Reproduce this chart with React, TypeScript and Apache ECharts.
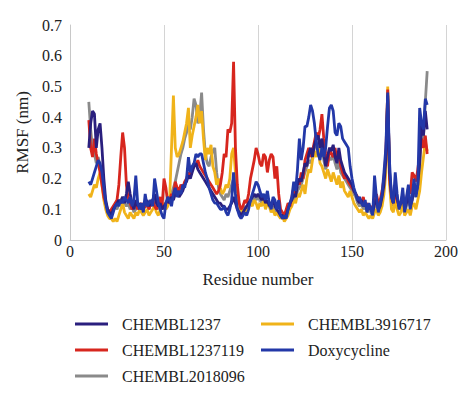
import React, { useEffect, useRef } from "react";
import * as echarts from "echarts";

const START_RESIDUE = 10;

const chembl1237 = [
  0.30, 0.38, 0.42, 0.41, 0.30, 0.36, 0.38, 0.30, 0.20, 0.13,
  0.10, 0.09, 0.08, 0.10, 0.11, 0.12, 0.13, 0.12, 0.14, 0.12,
  0.15, 0.19, 0.15, 0.12, 0.10, 0.13, 0.11, 0.12, 0.10, 0.11,
  0.12, 0.13, 0.11, 0.12, 0.13, 0.15, 0.12, 0.11, 0.12, 0.10,
  0.11, 0.12, 0.13, 0.12, 0.14, 0.13, 0.15, 0.16, 0.14, 0.15,
  0.16, 0.18, 0.19, 0.21, 0.20, 0.22, 0.24, 0.25, 0.23, 0.22,
  0.21, 0.20, 0.19, 0.18, 0.17, 0.16, 0.15, 0.14, 0.13, 0.12,
  0.12, 0.11, 0.11, 0.10, 0.10, 0.11, 0.12, 0.14, 0.12, 0.10,
  0.09, 0.08, 0.09, 0.10, 0.11, 0.12, 0.13, 0.14, 0.15, 0.14,
  0.15, 0.14, 0.13, 0.14, 0.12, 0.13, 0.11, 0.12, 0.13, 0.11,
  0.10, 0.09, 0.08, 0.08, 0.07, 0.08, 0.10, 0.12, 0.13, 0.15,
  0.14, 0.18, 0.20, 0.19, 0.22, 0.25, 0.24, 0.28, 0.30, 0.27,
  0.31, 0.33, 0.34, 0.30, 0.33, 0.28, 0.24, 0.27, 0.30, 0.29,
  0.31, 0.27, 0.25, 0.30, 0.26, 0.24, 0.22, 0.21, 0.20, 0.19,
  0.18, 0.16, 0.15, 0.13, 0.12, 0.13, 0.11, 0.12, 0.10, 0.11,
  0.10, 0.09, 0.12, 0.13, 0.10, 0.11, 0.14, 0.18, 0.26, 0.47,
  0.22, 0.15, 0.12, 0.18, 0.14, 0.11, 0.12, 0.15, 0.10, 0.12,
  0.15, 0.11, 0.13, 0.17, 0.15, 0.18, 0.25, 0.38, 0.34, 0.42, 0.36,
];

const chembl1237119 = [
  0.39, 0.30, 0.27, 0.33, 0.28, 0.25, 0.22, 0.18, 0.14, 0.12,
  0.10, 0.09, 0.10, 0.11, 0.12, 0.13, 0.18, 0.27, 0.35, 0.30,
  0.18, 0.13, 0.12, 0.10, 0.11, 0.12, 0.10, 0.11, 0.12, 0.10,
  0.11, 0.12, 0.10, 0.12, 0.13, 0.11, 0.10, 0.12, 0.14, 0.11,
  0.20, 0.17, 0.12, 0.13, 0.15, 0.14, 0.19, 0.17, 0.16, 0.18,
  0.17, 0.19, 0.20, 0.22, 0.21, 0.23, 0.25, 0.24, 0.26, 0.24,
  0.23, 0.22, 0.21, 0.20, 0.19, 0.18, 0.17, 0.16, 0.15, 0.16,
  0.18, 0.22, 0.28, 0.27, 0.36, 0.35, 0.38, 0.58, 0.30, 0.18,
  0.12, 0.10, 0.11, 0.13, 0.12, 0.15, 0.20, 0.23, 0.26, 0.30,
  0.28, 0.25, 0.24, 0.28, 0.27, 0.22, 0.26, 0.28, 0.27, 0.20,
  0.24, 0.15, 0.10, 0.09, 0.08, 0.10, 0.12, 0.11, 0.14, 0.17,
  0.15, 0.20, 0.18, 0.22, 0.20, 0.26, 0.28, 0.30, 0.27, 0.29,
  0.32, 0.35, 0.33, 0.36, 0.41, 0.33, 0.28, 0.24, 0.30, 0.28,
  0.27, 0.30, 0.26, 0.28, 0.24, 0.22, 0.20, 0.21, 0.19, 0.18,
  0.17, 0.16, 0.15, 0.14, 0.13, 0.12, 0.14, 0.11, 0.12, 0.10,
  0.11, 0.10, 0.12, 0.15, 0.12, 0.13, 0.16, 0.20, 0.28, 0.49,
  0.20, 0.14, 0.12, 0.17, 0.13, 0.11, 0.12, 0.14, 0.11, 0.13,
  0.17, 0.15, 0.22, 0.21, 0.19, 0.23, 0.28, 0.33, 0.30, 0.34, 0.28,
];

const chembl2018096 = [
  0.45, 0.36, 0.30, 0.28, 0.25, 0.27, 0.24, 0.20, 0.15, 0.11,
  0.09, 0.08, 0.09, 0.10, 0.11, 0.10, 0.12, 0.13, 0.14, 0.12,
  0.11, 0.12, 0.10, 0.11, 0.09, 0.10, 0.12, 0.10, 0.11, 0.10,
  0.12, 0.11, 0.10, 0.12, 0.11, 0.13, 0.11, 0.10, 0.12, 0.10,
  0.11, 0.12, 0.13, 0.12, 0.15, 0.17, 0.19, 0.22, 0.25, 0.28,
  0.30, 0.33, 0.35, 0.38, 0.36, 0.40, 0.46, 0.44, 0.38, 0.40,
  0.48, 0.36, 0.28, 0.25, 0.24, 0.27, 0.29, 0.30, 0.22, 0.17,
  0.15, 0.14, 0.13, 0.15, 0.14, 0.16, 0.18, 0.20, 0.15, 0.12,
  0.10, 0.09, 0.10, 0.11, 0.10, 0.12, 0.13, 0.12, 0.14, 0.13,
  0.14, 0.13, 0.12, 0.13, 0.11, 0.12, 0.11, 0.10, 0.11, 0.10,
  0.09, 0.08, 0.08, 0.07, 0.07, 0.08, 0.09, 0.11, 0.12, 0.14,
  0.13, 0.16, 0.17, 0.18, 0.20, 0.22, 0.24, 0.26, 0.25, 0.27,
  0.30, 0.31, 0.32, 0.28, 0.30, 0.26, 0.23, 0.25, 0.27, 0.26,
  0.28, 0.25, 0.23, 0.26, 0.22, 0.21, 0.20, 0.19, 0.18, 0.17,
  0.16, 0.15, 0.14, 0.12, 0.11, 0.12, 0.10, 0.11, 0.09, 0.10,
  0.09, 0.08, 0.11, 0.12, 0.09, 0.10, 0.13, 0.17, 0.25, 0.46,
  0.20, 0.13, 0.11, 0.16, 0.12, 0.10, 0.11, 0.14, 0.09, 0.11,
  0.14, 0.10, 0.13, 0.16, 0.14, 0.17, 0.24, 0.35, 0.33, 0.45, 0.55,
];

const chembl3916717 = [
  0.15, 0.14, 0.16, 0.18, 0.17, 0.20, 0.22, 0.18, 0.13, 0.10,
  0.08, 0.07, 0.07, 0.06, 0.07, 0.06, 0.08, 0.10, 0.12, 0.09,
  0.08, 0.07, 0.09, 0.08, 0.07, 0.09, 0.08, 0.10, 0.09, 0.08,
  0.09, 0.10, 0.08, 0.09, 0.10, 0.11, 0.09, 0.08, 0.10, 0.11,
  0.12, 0.10, 0.11, 0.13, 0.30, 0.47, 0.30, 0.27, 0.28, 0.30,
  0.32, 0.35, 0.38, 0.43, 0.30, 0.34, 0.37, 0.40, 0.44, 0.38,
  0.42, 0.33, 0.26, 0.30, 0.28, 0.31, 0.24, 0.22, 0.18, 0.20,
  0.17, 0.15, 0.16, 0.18, 0.17, 0.20, 0.28, 0.30, 0.22, 0.14,
  0.11, 0.10, 0.09, 0.10, 0.09, 0.11, 0.12, 0.11, 0.13, 0.12,
  0.10, 0.12, 0.11, 0.13, 0.10, 0.12, 0.11, 0.09, 0.10, 0.08,
  0.09, 0.08, 0.07, 0.08, 0.06, 0.07, 0.08, 0.10, 0.11, 0.13,
  0.12, 0.15, 0.14, 0.16, 0.18, 0.15, 0.20, 0.23, 0.22, 0.26,
  0.29, 0.27, 0.30, 0.25, 0.24, 0.22, 0.20, 0.23, 0.21, 0.19,
  0.22, 0.20, 0.18, 0.21, 0.17, 0.19, 0.16, 0.15, 0.14, 0.16,
  0.14, 0.12, 0.11, 0.10, 0.09, 0.10, 0.08, 0.09, 0.08, 0.07,
  0.08, 0.07, 0.09, 0.10, 0.08, 0.09, 0.11, 0.15, 0.22, 0.50,
  0.18, 0.10, 0.09, 0.13, 0.10, 0.08, 0.09, 0.12, 0.08, 0.09,
  0.10, 0.08, 0.11, 0.12, 0.10, 0.13, 0.16, 0.22, 0.27, 0.32, 0.29,
];

const doxycycline = [
  0.19, 0.18, 0.20, 0.22, 0.24, 0.26, 0.25, 0.22, 0.17, 0.12,
  0.09, 0.08, 0.07, 0.09, 0.11, 0.12, 0.11, 0.13, 0.12, 0.14,
  0.13, 0.12, 0.14, 0.11, 0.13, 0.21, 0.12, 0.10, 0.12, 0.09,
  0.15, 0.11, 0.12, 0.13, 0.11, 0.20, 0.16, 0.12, 0.10, 0.08,
  0.07, 0.12, 0.14, 0.13, 0.11, 0.15, 0.17, 0.14, 0.16, 0.15,
  0.18, 0.17, 0.20, 0.27, 0.22, 0.24, 0.25, 0.28, 0.27, 0.28,
  0.28, 0.25, 0.22, 0.20, 0.17, 0.15, 0.13, 0.12, 0.12, 0.11,
  0.10, 0.10, 0.11, 0.09, 0.08, 0.10, 0.13, 0.22, 0.15, 0.10,
  0.08, 0.07, 0.08, 0.09, 0.08, 0.10, 0.13, 0.15, 0.17, 0.19,
  0.18, 0.16, 0.14, 0.15, 0.13, 0.16, 0.12, 0.10, 0.14, 0.13,
  0.10, 0.13, 0.08, 0.07, 0.08, 0.07, 0.10, 0.12, 0.14, 0.19,
  0.16, 0.23, 0.33, 0.26, 0.30, 0.37, 0.37, 0.40, 0.44, 0.42,
  0.38, 0.32, 0.28, 0.26, 0.30, 0.27, 0.30, 0.37, 0.43, 0.44,
  0.42, 0.35, 0.34, 0.38, 0.37, 0.33, 0.32, 0.31, 0.30, 0.24,
  0.20, 0.17, 0.15, 0.13, 0.14, 0.12, 0.11, 0.13, 0.09, 0.12,
  0.10, 0.08, 0.21, 0.14, 0.09, 0.12, 0.15, 0.22, 0.30, 0.48,
  0.25, 0.14, 0.12, 0.22, 0.15, 0.10, 0.12, 0.17, 0.09, 0.14,
  0.18, 0.10, 0.14, 0.20, 0.14, 0.18, 0.43, 0.38, 0.36, 0.46, 0.44,
];

const seriesNames = ["CHEMBL1237", "CHEMBL1237119", "CHEMBL2018096", "CHEMBL3916717", "Doxycycline"];
const xTicks = [0, 50, 100, 150, 200];
const yTicks = [0, 0.1, 0.2, 0.3, 0.4, 0.5, 0.6, 0.7];

const FONT = "Liberation Serif";

function pairs(values: number[]) {
  return values.map((v, i) => [START_RESIDUE + i, v]);
}

export default function App() {
  const ref = useRef<HTMLDivElement>(null);
  useEffect(() => {
    if (!ref.current) return;
    const chart = echarts.init(ref.current, undefined, { renderer: "svg" });
    const mk = (name: string, data: number[], color: string) => ({
      name,
      type: "line",
      data: pairs(data),
      showSymbol: false,
      symbol: "none",
      lineStyle: { width: 2.8, color },
      itemStyle: { color },
    });
    const legendCommon = {
      orient: "vertical",
      top: 311,
      itemWidth: 33,
      itemHeight: 3,
      itemGap: 10,
      icon: "rect",
      textStyle: { fontFamily: FONT, fontSize: 16, color: "#222", padding: [0, 0, 0, 9] },
    };
    chart.setOption({
      animation: false,
      backgroundColor: "#fff",
      textStyle: { fontFamily: FONT },
      grid: { left: 70, top: 25, width: 376, height: 215 },
      legend: [
        { ...legendCommon, left: 70, data: [seriesNames[0], seriesNames[1], seriesNames[2]] },
        { ...legendCommon, left: 256, data: [seriesNames[3], seriesNames[4]] },
      ],
      xAxis: {
        type: "value",
        min: xTicks[0],
        max: xTicks[xTicks.length - 1],
        interval: 50,
        name: "Residue number",
        nameLocation: "middle",
        nameGap: 31,
        nameTextStyle: { fontFamily: FONT, fontSize: 17, color: "#222" },
        axisLine: { show: true, lineStyle: { color: "#c8c8c8", width: 1 } },
        axisTick: { show: false },
        axisLabel: { fontFamily: FONT, fontSize: 16, color: "#222", margin: 3 },
        splitLine: { show: true, lineStyle: { color: "#d4d4d4", width: 1 } },
      },
      yAxis: {
        type: "value",
        min: yTicks[0],
        max: yTicks[yTicks.length - 1],
        interval: 0.1,
        name: "RMSF (nm)",
        nameLocation: "middle",
        nameGap: 35,
        nameTextStyle: { fontFamily: FONT, fontSize: 17, color: "#222" },
        axisLine: { show: true, lineStyle: { color: "#c8c8c8", width: 1 } },
        axisTick: { show: false },
        axisLabel: { fontFamily: FONT, fontSize: 16, color: "#222", margin: 8 },
        splitLine: { show: false },
      },
      series: [
        mk(seriesNames[2], chembl2018096, "#8a8a8a"),
        mk(seriesNames[3], chembl3916717, "#f0b31a"),
        mk(seriesNames[1], chembl1237119, "#d7261e"),
        mk(seriesNames[0], chembl1237, "#2a1f7e"),
        mk(seriesNames[4], doxycycline, "#2338a8"),
      ],
    });
    return () => chart.dispose();
  }, []);
  return <div ref={ref} style={{ width: 474, height: 394, margin: -8 }} />;
}
